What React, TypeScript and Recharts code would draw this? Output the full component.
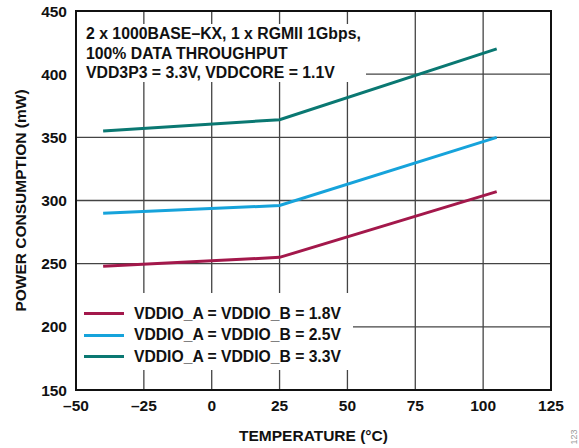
import React from 'react';
import { LineChart, Line, XAxis, YAxis, CartesianGrid, Legend, ReferenceArea } from 'recharts';

const temps = [-40, 25, 105];
const vddio18 = [248, 255, 307];
const vddio25 = [290, 296, 350];
const vddio33 = [355, 364, 420];

const xTicks = [-50, -25, 0, 25, 50, 75, 100, 125];
const yTicks = [150, 200, 250, 300, 350, 400, 450];

const notes = ['2 x 1000BASE\u2013KX, 1 x RGMII 1Gbps,', '100% DATA THROUGHPUT', 'VDD3P3 = 3.3V, VDDCORE = 1.1V'];

const series = [
  { key: 'v18', name: 'VDDIO_A = VDDIO_B = 1.8V', color: '#a3184b' },
  { key: 'v25', name: 'VDDIO_A = VDDIO_B = 2.5V', color: '#16a3db' },
  { key: 'v33', name: 'VDDIO_A = VDDIO_B = 3.3V', color: '#0a7872' },
];

const data = temps.map((t, i) => ({ t, v18: vddio18[i], v25: vddio25[i], v33: vddio33[i] }));

const font = '"Liberation Sans", Arial, sans-serif';
const tickStyle = { fontFamily: font, fontWeight: 700, fontSize: 15.5, fill: '#111' };
const dash = (v: number) => String(v).replace('-', '\u2013');

function LegendBox() {
  return (
    <div style={{ background: '#fff', padding: '10px 0 0 7px', width: 269, height: 67, textAlign: 'left' }}>
      {series.map((s) => (
        <div key={s.key} style={{ display: 'flex', alignItems: 'center', height: 21.5 }}>
          <span style={{ display: 'inline-block', width: 40, height: 3, background: s.color, marginRight: 10 }} />
          <span style={{ fontFamily: font, fontWeight: 700, fontSize: 15.7, color: '#111', whiteSpace: 'nowrap' }}>{s.name}</span>
        </div>
      ))}
    </div>
  );
}

export default function App() {
  return (
    <div style={{ position: 'absolute', left: 0, top: 0, width: 579, height: 448, background: '#fff', overflow: 'hidden' }}>
      <LineChart width={579} height={448} data={data} margin={{ top: 11, right: 28, bottom: 7, left: 16 }}>
        <CartesianGrid stroke="#444" strokeWidth={1.3} />
        <XAxis
          dataKey="t"
          type="number"
          domain={[-50, 125]}
          ticks={xTicks}
          tickFormatter={dash}
          tick={tickStyle}
          tickLine={false}
          tickSize={0}
          tickMargin={10}
          axisLine={{ stroke: '#111', strokeWidth: 2 }}
          height={51}
          label={{ value: 'TEMPERATURE (\u00b0C)', position: 'insideBottom', offset: 0, style: tickStyle }}
        />
        <YAxis
          type="number"
          domain={[150, 450]}
          ticks={yTicks}
          tick={tickStyle}
          tickLine={false}
          tickSize={0}
          tickMargin={9}
          axisLine={{ stroke: '#111', strokeWidth: 2 }}
          width={60}
          label={{ value: 'POWER CONSUMPTION (mW)', angle: -90, position: 'insideLeft', offset: 4, style: { ...tickStyle, textAnchor: 'middle' } }}
        />
        <ReferenceArea x1={-50} x2={125} y1={150} y2={450} fill="none" stroke="#111" strokeWidth={2} />
        {series.map((s) => (
          <Line
            key={s.key}
            dataKey={s.key}
            name={s.name}
            stroke={s.color}
            strokeWidth={3}
            dot={false}
            type="linear"
            isAnimationActive={false}
          />
        ))}
        <Legend
          layout="horizontal"
          verticalAlign="middle"
          align="center"
          content={<LegendBox />}
          wrapperStyle={{ left: 77, top: 293, width: 276, height: 77 }}
        />
      </LineChart>
      <div style={{ position: 'absolute', left: 77, top: 24, width: 289, height: 58, background: '#fff', padding: '0 0 0 9px', boxSizing: 'border-box' }}>
        {notes.map((n) => (
          <div key={n} style={{ fontFamily: font, fontWeight: 700, fontSize: 15.8, lineHeight: '19.5px', color: '#111', whiteSpace: 'nowrap' }}>{n}</div>
        ))}
      </div>
      <div style={{ position: 'absolute', left: 566, top: 432, transform: 'rotate(-90deg)', fontFamily: font, fontSize: 9, color: '#999' }}>123</div>
    </div>
  );
}
